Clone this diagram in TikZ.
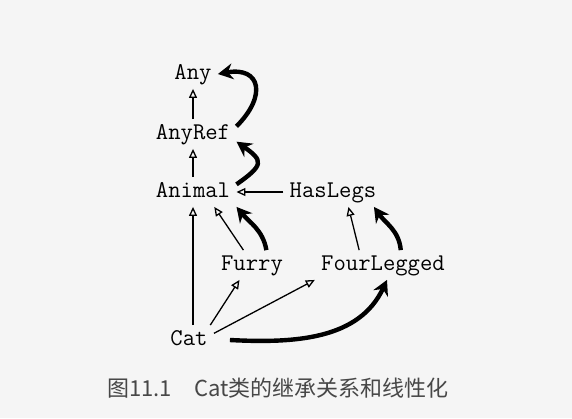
\documentclass[tikz,border=0pt]{standalone}
\usepackage{fontspec}
\newfontfamily\cjk{Noto Sans CJK SC}
\usetikzlibrary{arrows.meta}

\begin{document}
\begin{tikzpicture}
		[
			x=0.5pt, y=-0.5pt,
			cls/.style={inner sep=3pt, font=\ttfamily\fontsize{12}{14}\selectfont, text height=7pt, text depth=1.5pt},
			inherit/.style={line width=0.65pt, -{Triangle[open, length=4.5pt, width=4pt]}},
			linear/.style={line width=2.2pt, -{Stealth[length=7.5pt, width=8pt, inset=2.5pt]}},
		]

		\fill[black!4] (0,0) rectangle (572,418);

		% Nodes
		\foreach \name/\x/\y/\text in
		{
			any/193/74/Any,
			anyref/193/134/AnyRef,
			animal/193/192/Animal,
			haslegs/333/192/HasLegs,
			furry/252/265/Furry,
			fourlegged/383/265/FourLegged,
			cat/189/340/Cat
		}
			\node[cls] (\name) at (\x,\y) {\text};

		% Inheritance
		\foreach \u/\v in
		{
			anyref.north/any.south,
			animal.north/anyref.south,
			haslegs.west/animal.east,
			furry.120/animal.-35,
			cat.north -| animal/animal.south,
			cat.35/furry.-130,
			cat.15/fourlegged.south west,
			fourlegged.148/haslegs.-44
		}
			\draw[inherit] (\u) -- (\v);

		% Linearization
		\draw[linear] ([xshift=8pt]cat.east) to[out=-3, in=-115] (fourlegged.-75);
		\draw[linear] (fourlegged.40) to[out=95, in=-55] (haslegs.-20);
		\draw[linear] (furry.46) to[out=100, in=-50] (animal.south east);
		\draw[linear] (animal.10) to[out=35, in=-35, looseness=2] (anyref.-10);
		\draw[linear] (anyref.10) to[out=45, in=10, looseness=2] (any.east);

		% Caption
		\node[text=black!72, font=\cjk\fontsize{11}{13}\selectfont] (caption) at (278,388) {图11.1\quad Cat类的继承关系和线性化};

	\end{tikzpicture}
\end{document}
